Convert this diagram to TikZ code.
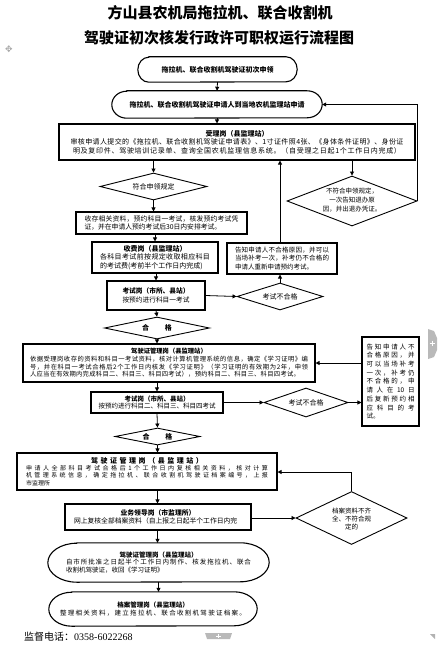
\documentclass[tikz,border=0pt]{standalone}
\usepackage{fontspec}
\setmainfont{Noto Sans CJK SC}
\newfontfamily\serifnum{Liberation Serif}
\newfontfamily\symfont{DejaVu Sans}
\usetikzlibrary{shapes.geometric,arrows.meta}
\ExplSyntaxOn
\NewDocumentCommand\spl{m m}{\makebox[#1][s]{\tl_map_inline:nn{#2}{##1\hfil}\unskip}}
\ExplSyntaxOff
\newcommand\stad[3]{%
  \draw[line width=1.1pt] ([xshift=#2]#1.north west) -- ([xshift=-#2]#1.north east)
    arc[start angle=90,end angle=-90,x radius=#2,y radius=#3]
    -- ([xshift=#2]#1.south west)
    arc[start angle=270,end angle=90,x radius=#2,y radius=#3] -- cycle;}
\begin{document}
\begin{tikzpicture}[x=1pt,y=-1pt,
  box/.style={draw, line width=1.1pt, inner sep=0pt, align=center},
  plain/.style={inner sep=0pt, align=center},
  dia/.style={draw, diamond, line width=0.9pt, inner sep=0pt},
  arr/.style={-{Triangle[length=4pt,width=4pt]}, line width=0.8pt},
  fa/.style={font=\fontsize{7}{8.4}\selectfont},
  fb/.style={font=\fontsize{6.5}{7.8}\selectfont},
  fc/.style={font=\fontsize{6.3}{7.6}\selectfont},
  fd/.style={font=\fontsize{6}{7}\selectfont}]
\useasboundingbox (0,0) rectangle (447,650);

% title
\node[plain, font=\fontsize{15}{18}\selectfont\bfseries] (t1) at (220,13) {方山县农机局拖拉机、联合收割机};
\node[plain, font=\fontsize{15}{18}\selectfont\bfseries] (t2) at (219,38) {驾驶证初次核发行政许可职权运行流程图};
\node[plain, text=gray!70, font=\symfont\fontsize{9}{9}\selectfont] (mv) at (9,49) {✥};

% start
\node[plain, fa, font=\fontsize{7}{8.4}\selectfont\bfseries, minimum width=159, minimum height=25] (n1) at (217.5,69.5) {拖拉机、联合收割机驾驶证初次申领};
\stad{n1}{11pt}{12.5pt}
\node[plain, font=\fontsize{7}{8.4}\selectfont\bfseries, minimum width=210, minimum height=27] (n2) at (217,104.5) {拖拉机、联合收割机驾驶证申请人到当地农机监理站申请};
\stad{n2}{15pt}{13.5pt}

% acceptance
\node[box, fa, minimum width=356, minimum height=36] (n3) at (237,142) {{\bfseries 受理岗（县监理站）}\\
\spl{333pt}{审核申请人提交的《拖拉机、联合收割机驾驶证申请表》、1寸证件照4张、《身体条件证明》、身份证}\\
\spl{328pt}{明及复印件、驾驶培训记录单、查询全国农机监理信息系统。（自受理之日起1个工作日内完成）}\hspace{5pt}};

\node[dia, minimum width=107, minimum height=27] (d1) at (153.5,186.5) {};
\node[plain, fa] (d1t) at (d1) {符合申领规定};
\node[dia, minimum width=130, minimum height=50] (d2) at (352,201) {};
\node[plain, fb, font=\fontsize{6.5}{8.8}\selectfont] (d2t) at (352,200) {不符合申领规定，\\一次告知退办原\\因，并出退办凭证。};

\node[box, font=\fontsize{6.8}{8}\selectfont, minimum width=171, minimum height=22] (b4) at (161.5,223) {\spl{154pt}{收存相关资料，预约科目一考试，核发预约考试凭}\\
\makebox[154pt][l]{证，并在申请人预约考试后30日内安排考试。}};

\node[box, fa, minimum width=126, minimum height=31] (b5) at (155,257.5) {{\bfseries 收费岗（县监理站）}\\
\spl{110pt}{各科目考试前按规定收取相应科目}\\
\makebox[110pt][l]{的考试费(考前半个工作日内完成)}};

\node[box, fb, font=\fontsize{6.5}{8.2}\selectfont, minimum width=110, minimum height=31] (b6) at (282,258.5) {\spl{94pt}{告知申请人不合格原因，并可以}\\
\spl{94pt}{当场补考一次，补考仍不合格的}\\
\makebox[94pt][l]{申请人重新申请预约考试。}};

\node[box, fb, font=\fontsize{6.7}{8.8}\selectfont, minimum width=98, minimum height=29] (b7) at (156,295.5) {{\bfseries 考试岗（市所、县站）}\\按预约进行科目一考试};

\node[dia, minimum width=86, minimum height=27] (d3) at (280,296.5) {};
\node[plain, fa] (d3t) at (d3) {考试不合格};

\node[dia, minimum width=105, minimum height=22] (d4) at (157,328) {};
\node[plain, font=\fontsize{7}{8.4}\selectfont\bfseries] (d4t) at (d4) {合\hspace{16pt}格};

% licence management 1
\node[box, fc, minimum width=292, minimum height=38] (b8) at (169,363) {{\bfseries 驾驶证管理岗（县监理站）}\\
\spl{278pt}{依据受理岗收存的资料和科目一考试资料，核对计算机管理系统的信息，确定《学习证明》编}\\
\spl{278pt}{号，并在科目一考试合格后2个工作日内核发《学习证明》（学习证明的有效期为2年，申领}\\
\makebox[278pt][l]{\spl{270pt}{人应当在有效期内完成科目二、科目三、科目四考试），预约科目二、科目三、科目四考试。}}};

\node[box, font=\fontsize{6.5}{8.7}\selectfont, minimum width=57, minimum height=89] (b9) at (390.5,381.5) {\spl{48pt}{告知申请人不}\\
\spl{48pt}{合格原因，并}\\
\spl{48pt}{可以当场补考}\\
\spl{48pt}{一次，补考仍}\\
\spl{48pt}{不合格的，申}\\
\spl{48pt}{请人在{10}日}\\
\spl{48pt}{后复新预约相}\\
\spl{48pt}{应科目的考}\\
\makebox[48pt][l]{试。}};

\node[box, fb, font=\fontsize{6.5}{7.4}\selectfont, minimum width=132, minimum height=21] (b10) at (157,402.5) {{\bfseries 考试岗（市所、县站）}\\按预约进行科目二、科目三、科目四考试};

\node[dia, minimum width=84, minimum height=29] (d5) at (306,402.5) {};
\node[plain, fa] (d5t) at (d5) {考试不合格};

\node[dia, minimum width=85, minimum height=17] (d6) at (157.5,436.5) {};
\node[plain, font=\fontsize{7}{8.4}\selectfont\bfseries] (d6t) at (d6) {合\hspace{16pt}格};

% licence management 2
\node[box, fd, font=\fontsize{6}{7.2}\selectfont, minimum width=260, minimum height=37] (b11) at (147,471.5) {{\fontsize{7}{8.4}\selectfont\bfseries\spl{112pt}{驾驶证管理岗（县监理站）}}\\
\spl{242pt}{申请人全部科目考试合格后1个工作日内复核相关资料，核对计算}\\
\spl{242pt}{机管理系统信息，确定拖拉机、联合收割机驾驶证档案编号，上报}\\
\makebox[242pt][l]{市监理所}};

\node[box, font=\fontsize{6.8}{8.4}\selectfont, minimum width=186, minimum height=26] (b12) at (158,517) {{\bfseries 业务领导岗（市监理所）}\\
\makebox[168pt][l]{网上复核全部档案资料（自上报之日起半个工作日内完}};

\node[dia, minimum width=111, minimum height=53] (d7) at (351.5,518) {};
\node[plain, font=\fontsize{6.5}{8}\selectfont] (d7t) at (351.5,519) {档案资料不齐\\全、不符合规\\定的};

% final steps
\node[plain, font=\fontsize{6.5}{7.6}\selectfont, minimum width=221, minimum height=39] (n4) at (158.5,562.5) {{\bfseries 驾驶证管理岗（县监理站）}\\
\spl{185pt}{自市所批准之日起半个工作日内制作、核发拖拉机、联合}\\
\makebox[185pt][l]{收割机驾驶证，收回《学习证明》}};
\stad{n4}{29pt}{19.5pt}

\node[plain, font=\fontsize{6.5}{8}\selectfont, minimum width=208, minimum height=34] (n5) at (153,609) {{\bfseries 档案管理岗（县监理站）}\\
\spl{186pt}{整理相关资料，建立拖拉机、联合收割机驾驶证档案。}};
\stad{n5}{23pt}{17pt}

\node[anchor=west, inner sep=0pt, font=\fontsize{10}{12}\selectfont] (ft) at (24,637) {监督电话：{\serifnum 0358-6022268}};

% connectors
\draw[arr] (n1.south) -- (n2.north);
\draw[arr] (n2.south) -- (n2.south |- n3.north);
\draw[arr] (n3.south -| d1) -- (d1.north);
\draw[arr] (n3.south -| d2) -- (d2.north);
\draw[arr] (d2.east) -- (d2.east |- n2) -- (n2.east);
\draw[arr] (d1.south) -- (d1.south |- b4.north);
\draw[arr] (b4.south -| b5) -- (b5.north);
\draw[arr] (b5.south -| b7) -- (b7.north);
\draw[arr] (b7.east) -- (d3.west);
\draw[arr] (d3.north) -- (d3.north |- b6.south);
\draw[arr] (b6.north -| d3) -- (n3.south -| d3);
\draw[arr] (b7.south) -- (d4.north);
\draw[arr] (d4.south) -- (d4.south |- b8.north);
\draw[arr] (b9.west |- b8) -- (b8.east);
\draw[arr] (b8.south -| b10) -- (b10.north);
\draw[arr] (b10.east) -- (d5.west);
\draw[arr] (d5.east) -- (d5.east -| b9.west);
\draw[arr] (b10.south) -- (d6.north);
\draw[arr] (d6.south) -- (d6.south |- b11.north);
\draw[arr] (b11.south -| d6) -- (b12.north -| d6);
\draw[arr] (b12.east |- d7) -- (d7.west);
\coordinate (k7) at (351.5,472);
\draw[arr] (d7.north) -- (k7) -- (k7 -| b11.east);
\draw[arr] (b12.south -| d6) -- (n4.north -| d6);
\draw[arr] (n4.south) -- (n4.south |- n5.north);

% viewer tabs
\fill[gray!55] (428,329) -- (434,331) -- (437,338) -- (437,350) -- (434,357) -- (428,359) -- cycle;
\draw[white, line width=0.8pt] (429.5,343) -- (434.5,343) (432,340.5) -- (432,345.5);
\fill[gray!55] (205,633) -- (232,633) -- (230,639) -- (207,639) -- cycle;
\draw[white, line width=0.8pt] (216,636) -- (221,636) (218.5,634) -- (218.5,638);
\fill[gray!60] (430,634) -- (435,634) -- (435,639) -- cycle;
\end{tikzpicture}
\end{document}
